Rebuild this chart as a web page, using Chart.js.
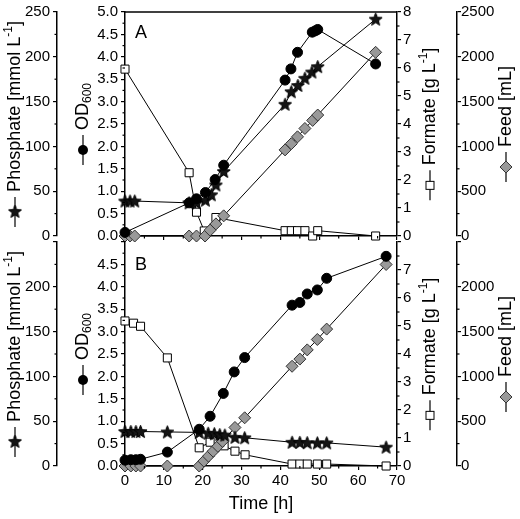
<!DOCTYPE html>
<html>
<head>
<meta charset="utf-8">
<script src="https://cdn.jsdelivr.net/npm/chart.js@4.4.1/dist/chart.umd.min.js"></script>
<style>
  body { margin: 0; background: #fff; }
  #wrap { position: relative; width: 520px; height: 519px; }
  canvas { position: absolute; left: 0; }
</style>
</head>
<body>
<div id="wrap">
  <canvas id="chartA" width="520" height="248" style="top:0px"></canvas>
  <canvas id="chartB" width="520" height="289" style="top:230px"></canvas>
</div>
<script>
// ---- panel A ----
const timeOdA = [0, 16.5, 18.4, 20.7, 23.2, 25.4, 41.2, 42.7, 44.4, 48.2, 49.0, 49.6, 64.5];
const odA = [0.08, 0.74, 0.83, 0.97, 1.26, 1.58, 3.48, 3.73, 4.10, 4.55, 4.58, 4.61, 3.84];

const timePhosA = [0, 1.3, 2.5, 16.5, 18.4, 20.7, 22.2, 23.4, 25.4, 41.2, 42.8, 44.5, 46.3, 48.1, 49.6, 64.5];
const phosA = [39, 39, 39, 37, 37, 40, 46, 57, 72, 147, 161, 168, 176, 183, 189, 242];

const timeFormA = [0, 16.5, 18.4, 20.4, 23.4, 41.2, 42.8, 44.4, 46.3, 48.3, 49.6, 64.5];
const formA = [5.96, 2.26, 0.85, 0.18, 0.66, 0.19, 0.19, 0.19, 0.19, 0.0, 0.19, 0.0];

const timeFeedA = [0, 1.3, 2.5, 16.5, 18.4, 20.6, 21.9, 23.4, 25.4, 41.2, 42.8, 44.4, 46.3, 48.3, 49.6, 64.5];
const feedA = [0, 0, 0, 0, 0, 0, 65, 135, 225, 961, 1030, 1107, 1200, 1290, 1350, 2050];

// ---- panel B ----
const timeOdB = [0, 1.5, 2.8, 4.0, 10.9, 19.1, 21.9, 25.3, 28.1, 30.8, 43.0, 45.0, 46.9, 49.5, 51.9, 67.2];
const odB = [0.13, 0.14, 0.14, 0.15, 0.31, 0.82, 1.11, 1.62, 2.10, 2.42, 3.59, 3.65, 3.84, 3.93, 4.19, 4.68];

const timePhosB = [0, 1.5, 2.8, 4.0, 10.9, 19.1, 21.4, 23.0, 24.4, 25.7, 28.3, 30.8, 43.0, 45.0, 46.9, 49.5, 51.9, 67.2];
const phosB = [38.5, 38.5, 38.5, 38.5, 38, 37.5, 36.5, 36, 35, 34.5, 32, 31.5, 26.5, 26.3, 26, 25.8, 25.8, 21];

const timeFormB = [0, 2.2, 4.0, 10.9, 19.1, 21.9, 25.5, 28.3, 30.9, 43.0, 45.0, 46.9, 49.5, 51.9, 67.2];
const formB = [5.18, 5.10, 4.99, 3.86, 0.65, 0.85, 0.72, 0.53, 0.40, 0.07, 0.07, 0.07, 0.07, 0.07, 0.0];

const timeFeedB = [0, 1.5, 2.8, 4.0, 10.9, 19.1, 20.3, 21.5, 22.7, 23.9, 25.1, 28.3, 30.8, 43.0, 45.0, 46.9, 49.5, 51.9, 67.2];
const feedB = [0, 0, 0, 0, 0, 0, 55, 110, 165, 220, 275, 430, 538, 1113, 1193, 1296, 1412, 1528, 2249];

const FONT = "'Liberation Sans', Arial, sans-serif";
Chart.defaults.font.family = FONT;
Chart.defaults.color = '#000';

// filled 5 point star, used as pointStyle
const starImg = document.createElement('canvas');
starImg.width = 15; starImg.height = 15;
(function () {
  const c = starImg.getContext('2d');
  c.beginPath();
  for (let i = 0; i < 10; i++) {
    const r = i % 2 === 0 ? 6.8 : 2.9;
    const a = -Math.PI / 2 + i * Math.PI / 5;
    const px = 7.5 + r * Math.cos(a), py = 8 + r * Math.sin(a);
    if (i === 0) c.moveTo(px, py); else c.lineTo(px, py);
  }
  c.closePath();
  c.fillStyle = '#151515'; c.fill();
  c.strokeStyle = '#000'; c.lineWidth = 1; c.stroke();
})();

function pts(t, v) {
  return t.map((x, i) => ({ x: x, y: v[i] }));
}

function drawMarker(ctx, type, x, y) {
  ctx.save();
  ctx.lineWidth = 1;
  if (type === 'circle') {
    ctx.beginPath(); ctx.arc(x, y, 5, 0, Math.PI * 2);
    ctx.fillStyle = '#000'; ctx.fill();
  } else if (type === 'square') {
    ctx.fillStyle = '#fff'; ctx.strokeStyle = '#000';
    ctx.fillRect(x - 4, y - 4, 8, 8); ctx.strokeRect(x - 4, y - 4, 8, 8);
  } else if (type === 'diamond') {
    ctx.beginPath();
    ctx.moveTo(x, y - 6); ctx.lineTo(x + 6, y); ctx.lineTo(x, y + 6); ctx.lineTo(x - 6, y);
    ctx.closePath();
    ctx.fillStyle = '#999'; ctx.fill(); ctx.strokeStyle = '#333'; ctx.stroke();
  } else {
    ctx.drawImage(starImg, x - 7.5, y - 8);
  }
  ctx.restore();
}

// rotated axis title with its little legend symbol underneath
function drawTitle(ctx, x, yc, marker, runs) {
  const symLen = 30, gap = 5;
  let textW = 0;
  runs.forEach(r => { ctx.font = r[1] + 'px ' + FONT; textW += ctx.measureText(r[0]).width; });
  const yStart = yc + (symLen + gap + textW) / 2;
  ctx.save();
  ctx.strokeStyle = '#000'; ctx.lineWidth = 1.2;
  ctx.beginPath(); ctx.moveTo(x, yStart); ctx.lineTo(x, yStart - symLen); ctx.stroke();
  drawMarker(ctx, marker, x, yStart - symLen / 2);
  ctx.translate(x, yStart - symLen - gap);
  ctx.rotate(-Math.PI / 2);
  ctx.fillStyle = '#000';
  ctx.textBaseline = 'middle';
  ctx.textAlign = 'left';
  let pos = 0;
  runs.forEach(r => {
    ctx.font = r[1] + 'px ' + FONT;
    ctx.fillText(r[0], pos, r[2]);
    pos += ctx.measureText(r[0]).width;
  });
  ctx.restore();
}

const minorSteps = { x: 5, yPhos: 25, yOD: 0.25, yForm: 0.5, yFeed: 250 };

const decor = {
  id: 'decor',
  afterDraw(chart, args, opts) {
    const ctx = chart.ctx;
    const area = chart.chartArea;
    ctx.save();
    ctx.strokeStyle = '#000';
    ctx.lineWidth = 1.2;
    // minor ticks
    Object.keys(minorSteps).forEach(id => {
      const s = chart.scales[id];
      const m = minorSteps[id];
      const major = m * 2;
      for (let v = s.min + m; v < s.max; v += m) {
        if (Math.abs(v / major - Math.round(v / major)) < 1e-6) continue;
        const p = s.getPixelForValue(v);
        ctx.beginPath();
        if (s.position === 'left') { ctx.moveTo(s.right, p); ctx.lineTo(s.right - 2.5, p); }
        else if (s.position === 'right') { ctx.moveTo(s.left, p); ctx.lineTo(s.left + 2.5, p); }
        else { ctx.moveTo(p, s.top); ctx.lineTo(p, s.top + 2.5); }
        ctx.stroke();
      }
    });
    if (opts.frameTop) {
      ctx.lineWidth = 1.5;
      ctx.beginPath(); ctx.moveTo(area.left, area.top); ctx.lineTo(area.right, area.top); ctx.stroke();
    }
    ctx.fillStyle = '#000';
    ctx.font = '18px ' + FONT;
    ctx.textAlign = 'left';
    ctx.textBaseline = 'alphabetic';
    ctx.fillText(opts.letter, area.left + 10, area.top + opts.letterDy);
    if (opts.timeTitle) {
      ctx.textAlign = 'center';
      ctx.textBaseline = 'middle';
      ctx.fillText('Time [h]', (area.left + area.right) / 2, 274);
    }
    ctx.restore();
    const yc = (area.top + area.bottom) / 2;
    drawTitle(ctx, 15, yc, 'star', [['Phosphate [mmol L', 18, 0], ['-1', 12, -6], [']', 18, 0]]);
    drawTitle(ctx, 83, yc, 'circle', [['OD', 18, 0], ['600', 12, 5]]);
    drawTitle(ctx, 430, yc, 'square', [['Formate [g L', 18, 0], ['-1', 12, -6], [']', 18, 0]]);
    drawTitle(ctx, 506, yc, 'diamond', [['Feed [mL]', 18, 0]]);
  }
};

function yAxis(pos, max, step, width, weight, hideTop, pad, fmt) {
  return {
    type: 'linear',
    position: pos,
    weight: weight,
    min: 0,
    max: max,
    border: { color: '#000', width: 1.5 },
    grid: { drawOnChartArea: false, color: '#000', lineWidth: 1.2, tickLength: 4 },
    ticks: {
      stepSize: step,
      autoSkip: false,
      padding: pad,
      font: { size: 15 },
      callback: function (v) {
        if (hideTop && v === max) return '';
        return fmt ? fmt(v) : v;
      }
    },
    afterFit: function (scale) { scale.width = width; }
  };
}

function makeChart(id, data, panel) {
  const isB = panel === 'B';
  return new Chart(document.getElementById(id), {
    type: 'line',
    data: {
      datasets: [
        {
          label: 'OD600', data: pts(data.tOd, data.od), yAxisID: 'yOD',
          borderColor: '#000', borderWidth: 1, pointStyle: 'circle', pointRadius: 5,
          pointBackgroundColor: '#000', pointBorderColor: '#000', clip: false
        },
        {
          label: 'Phosphate', data: pts(data.tPhos, data.phos), yAxisID: 'yPhos',
          borderColor: '#000', borderWidth: 1, pointStyle: starImg, pointRadius: 7, clip: false
        },
        {
          label: 'Feed', data: pts(data.tFeed, data.feed), yAxisID: 'yFeed',
          borderColor: '#000', borderWidth: 1, pointStyle: 'rectRot', pointRadius: 6,
          pointBackgroundColor: '#999', pointBorderColor: '#333', pointBorderWidth: 1, clip: false
        },
        {
          label: 'Formate', data: pts(data.tForm, data.form), yAxisID: 'yForm',
          borderColor: '#000', borderWidth: 1, pointStyle: 'rect', pointRadius: 5.7,
          pointBackgroundColor: '#fff', pointBorderColor: '#000', pointBorderWidth: 1, clip: false
        }
      ]
    },
    options: {
      responsive: false,
      animation: false,
      layout: { padding: { top: isB ? 7 : 10, left: 0, right: 0, bottom: 0 } },
      plugins: {
        legend: { display: false },
        tooltip: { enabled: false },
        decor: { frameTop: !isB, timeTitle: isB, letter: panel, letterDy: isB ? 28 : 26 }
      },
      scales: {
        x: {
          type: 'linear',
          position: 'bottom',
          min: 0,
          max: 70,
          border: { color: '#000', width: 1.5 },
          grid: { drawOnChartArea: false, color: '#000', lineWidth: 1.2, tickLength: 4 },
          ticks: { display: isB, stepSize: 10, padding: 2, font: { size: 15 } },
          afterFit: function (scale) { scale.height = isB ? 53 : 11; }
        },
        yPhos: yAxis('left', 250, 50, 57, 2, isB, 3),
        yOD: yAxis('left', 5, 0.5, 68, 1, isB, 3, v => v.toFixed(1)),
        yForm: yAxis('right', 8, 1, 60, 1, isB, 2),
        yFeed: yAxis('right', 2500, 500, 63, 2, isB, 0)
      }
    },
    plugins: [decor]
  });
}

makeChart('chartA', {
  tOd: timeOdA, od: odA, tPhos: timePhosA, phos: phosA,
  tForm: timeFormA, form: formA, tFeed: timeFeedA, feed: feedA
}, 'A');

makeChart('chartB', {
  tOd: timeOdB, od: odB, tPhos: timePhosB, phos: phosB,
  tForm: timeFormB, form: formB, tFeed: timeFeedB, feed: feedB
}, 'B');
</script>
</body>
</html>
